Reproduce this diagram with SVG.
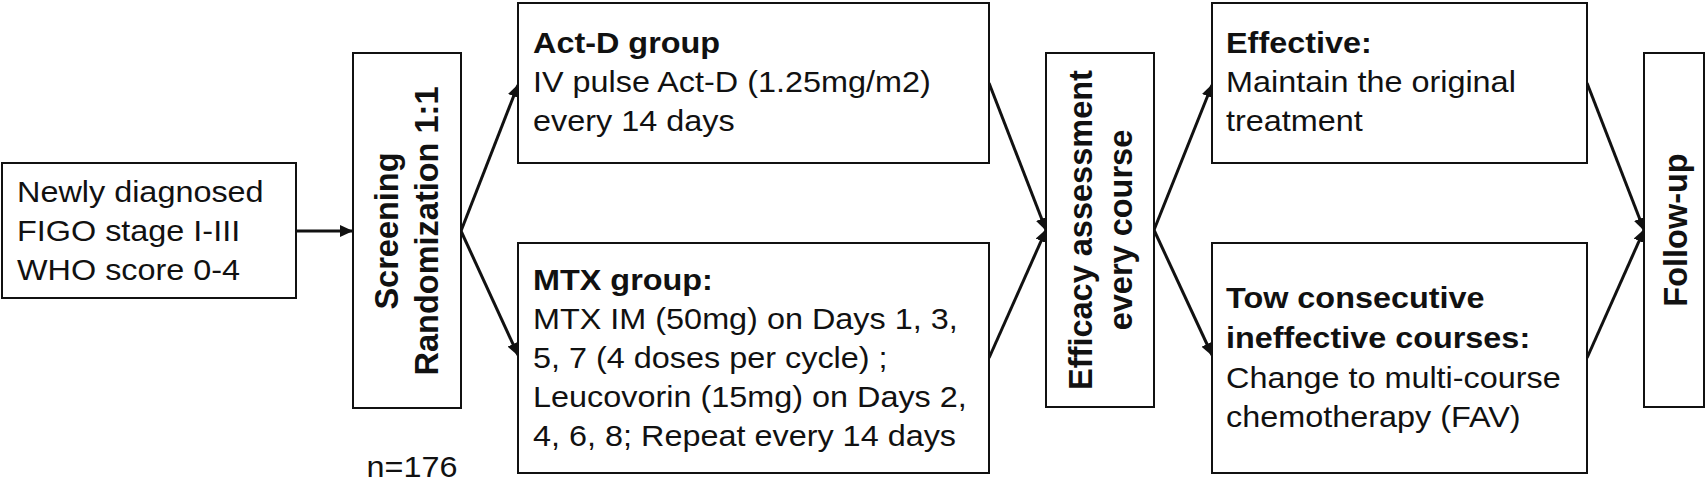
<svg xmlns="http://www.w3.org/2000/svg" width="1706" height="483" viewBox="0 0 1706 483">
<style>
.box{fill:#fff;stroke:#111;stroke-width:2}
.t{font-family:"Liberation Sans",Arial,sans-serif;font-size:29px;fill:#111}
.b{font-weight:bold}
.r{font-family:"Liberation Sans",Arial,sans-serif;font-size:32.5px;font-weight:bold;fill:#111;text-anchor:middle}
.c{fill:none;stroke:#111;stroke-width:3;marker-end:url(#ah)}
</style>
<defs>
<marker id="ah" markerUnits="userSpaceOnUse" markerWidth="14" markerHeight="13" refX="12" refY="6" orient="auto" viewBox="0 0 14 13">
<path d="M0,0 L13,6 L0,12 z" fill="#111"/>
</marker>
</defs>
<rect width="1706" height="483" fill="#fff"/>
<g id="connectors">
<line class="c" x1="296" y1="231" x2="352" y2="231"/>
<line class="c" x1="461" y1="231" x2="518" y2="85"/>
<line class="c" x1="461" y1="231" x2="518" y2="355"/>
<line class="c" x1="989" y1="83" x2="1046" y2="230"/>
<line class="c" x1="989" y1="358" x2="1046" y2="230"/>
<line class="c" x1="1154" y1="230" x2="1212" y2="85"/>
<line class="c" x1="1154" y1="230" x2="1212" y2="355"/>
<line class="c" x1="1587" y1="83" x2="1644" y2="230"/>
<line class="c" x1="1587" y1="358" x2="1644" y2="230"/>
</g>
<g id="n-newly">
<rect class="box" x="2" y="163" width="294" height="135"/>
<g transform="matrix(1.117 0 0 1 17 0)">
<text class="t" x="0" y="202">Newly diagnosed</text>
<text class="t" x="0" y="241">FIGO stage I-III</text>
<text class="t" x="0" y="280">WHO score 0-4</text>
</g>
</g>
<g id="n-screening">
<rect class="box" x="353" y="53" width="108" height="355"/>
<text class="r" transform="translate(398 231) rotate(-90)">Screening</text>
<text class="r" transform="translate(438 231) rotate(-90)">Randomization 1:1</text>
</g>
<g id="n-count">
<g transform="matrix(1.117 0 0 1 412 0)">
<text class="t" x="0" y="477" text-anchor="middle">n=176</text>
</g>
</g>
<g id="n-actd">
<rect class="box" x="518" y="3" width="471" height="160"/>
<g transform="matrix(1.117 0 0 1 533 0)">
<text class="t b" x="0" y="53">Act-D group</text>
<text class="t" x="0" y="92">IV pulse Act-D (1.25mg/m2)</text>
<text class="t" x="0" y="131">every 14 days</text>
</g>
</g>
<g id="n-mtx">
<rect class="box" x="518" y="243" width="471" height="230"/>
<g transform="matrix(1.117 0 0 1 533 0)">
<text class="t b" x="0" y="290">MTX group:</text>
<text class="t" x="0" y="329">MTX IM (50mg) on Days 1, 3,</text>
<text class="t" x="0" y="368">5, 7 (4 doses per cycle) ;</text>
<text class="t" x="0" y="407">Leucovorin (15mg) on Days 2,</text>
<text class="t" x="0" y="446">4, 6, 8; Repeat every 14 days</text>
</g>
</g>
<g id="n-efficacy">
<rect class="box" x="1046" y="53" width="108" height="354"/>
<text class="r" transform="translate(1092 230) rotate(-90)">Efficacy assessment</text>
<text class="r" transform="translate(1132 230) rotate(-90)">every course</text>
</g>
<g id="n-effective">
<rect class="box" x="1212" y="3" width="375" height="160"/>
<g transform="matrix(1.117 0 0 1 1226 0)">
<text class="t b" x="0" y="53">Effective:</text>
<text class="t" x="0" y="92">Maintain the original</text>
<text class="t" x="0" y="131">treatment</text>
</g>
</g>
<g id="n-ineffective">
<rect class="box" x="1212" y="243" width="375" height="230"/>
<g transform="matrix(1.117 0 0 1 1226 0)">
<text class="t b" x="0" y="308">Tow consecutive</text>
<text class="t b" x="0" y="348">ineffective courses:</text>
<text class="t" x="0" y="388">Change to multi-course</text>
<text class="t" x="0" y="427">chemotherapy (FAV)</text>
</g>
</g>
<g id="n-followup">
<rect class="box" x="1644" y="53" width="60" height="354"/>
<text class="r" transform="translate(1687 230) rotate(-90)">Follow-up</text>
</g>
</svg>
